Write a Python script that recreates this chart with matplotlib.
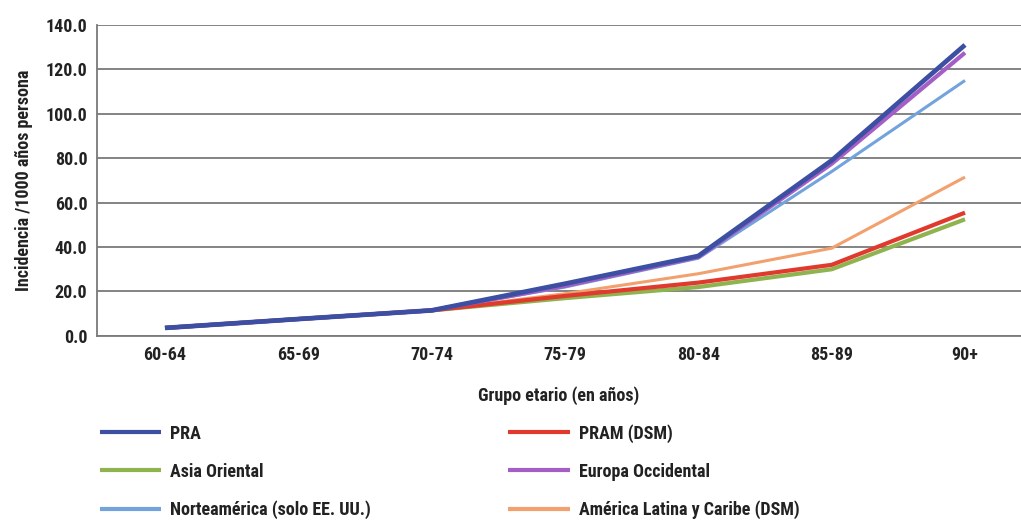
import matplotlib.pyplot as plt
from matplotlib import font_manager

# Incidence per 1000 person-years by age group
groups = ["60-64", "65-69", "70-74", "75-79", "80-84", "85-89", "90+"]
pra = [3.6, 7.6, 11.5, 23.5, 36.0, 79.0, 131.0]
pram = [3.6, 7.6, 11.5, 18.0, 24.0, 32.0, 55.5]
asia = [3.6, 7.6, 11.5, 17.0, 22.0, 30.0, 52.5]
europa = [3.6, 7.6, 11.5, 22.5, 35.5, 77.5, 127.5]
norte = [3.6, 7.6, 11.5, 22.0, 35.0, 74.0, 115.0]
latam = [3.6, 7.6, 11.5, 19.0, 28.0, 39.5, 71.5]

names = {f.name for f in font_manager.fontManager.ttflist}
FONT = "Roboto Condensed" if "Roboto Condensed" in names else "DejaVu Sans"
plt.rcParams["font.family"] = [FONT, "DejaVu Sans"]
plt.rcParams["font.weight"] = "bold"
plt.rcParams["axes.labelweight"] = "bold"

fig = plt.figure(figsize=(10.21, 5.2), dpi=100)
ax = fig.add_axes([0.095, 0.354, 0.905, 0.598])

x = range(len(groups))
series = [
    ("Norteamérica (solo EE. UU.)", norte, "#72a3dc", 2.2),
    ("América Latina y Caribe (DSM)", latam, "#f2a06e", 2.2),
    ("Asia Oriental", asia, "#8fb34e", 3.0),
    ("PRAM (DSM)", pram, "#e0392d", 3.0),
    ("Europa Occidental", europa, "#a45ec6", 3.0),
    ("PRA", pra, "#3c4fa3", 3.4),
]
lines = {}
for label, vals, color, lw in series:
    (ln,) = ax.plot(x, vals, color=color, lw=lw, label=label, solid_capstyle="butt")
    lines[label] = ln

ax.set_xlim(-0.51, 6.42)
ax.set_ylim(0, 140)
ax.set_yticks(range(0, 141, 20))
ax.set_yticklabels([f"{v:.1f}" for v in range(0, 141, 20)])
ax.set_xticks(list(x))
ax.set_xticklabels(groups)
ax.tick_params(axis="both", length=0, labelsize=13, pad=7, colors="#222222")
ax.grid(axis="y", color="#7a7a7a", lw=1.3)
ax.set_axisbelow(True)
for s in ["top", "right"]:
    ax.spines[s].set_visible(False)
for s in ["left", "bottom"]:
    ax.spines[s].set_color("#7a7a7a")
    ax.spines[s].set_linewidth(1.3)

ax.set_ylabel("Incidencia /1000 años persona", fontsize=13, labelpad=9, color="#222222")
ax.set_xlabel("Grupo etario (en años)", fontsize=13, labelpad=16, color="#222222")

order = ["PRA", "Asia Oriental", "Norteamérica (solo EE. UU.)",
         "PRAM (DSM)", "Europa Occidental", "América Latina y Caribe (DSM)"]
leg = fig.legend([lines[k] for k in order], order, ncol=2, loc="lower left",
                 bbox_to_anchor=(0.082, -0.03), frameon=False, fontsize=13,
                 handlelength=3.4, handletextpad=0.5, columnspacing=7.6,
                 labelspacing=1.1)
for t in leg.get_texts():
    t.set_color("#222222")
for h in leg.legend_handles:
    h.set_linewidth(3.0)

fig.savefig("out.png", dpi=100)
